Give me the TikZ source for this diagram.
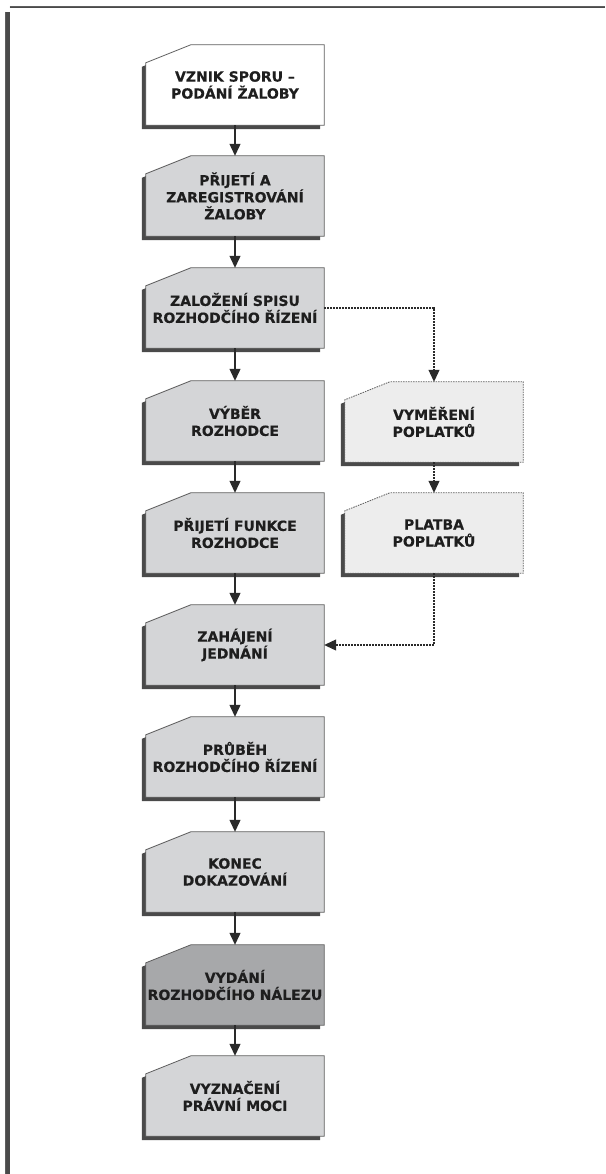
\documentclass[tikz,border=0pt]{standalone}
\usepackage{fontspec}
\setmainfont{DejaVu Sans}[BoldFeatures={FakeBold=0.4}]
\usetikzlibrary{arrows.meta,calc}
\definecolor{boxfill}{HTML}{D4D5D7}
\definecolor{darkfill}{HTML}{A7A8AA}
\definecolor{lightfill}{HTML}{EDEDED}
\definecolor{shadowc}{HTML}{4A4A4A}
\definecolor{edgec}{HTML}{5E5E5E}
\definecolor{txtc}{HTML}{1E1E1E}
\definecolor{linec}{HTML}{2A2A2A}
\pgfdeclarelayer{bg}
\pgfsetlayers{bg,main}
\tikzset{
 flowbox/.style={minimum width=178pt, minimum height=80pt, inner sep=0pt, align=center,
   text=txtc, font=\fontsize{14}{17}\selectfont\bfseries},
 solidedge/.style={draw=edgec, line width=0.8pt},
 dotedge/.style={draw=edgec, line width=0.8pt, dash pattern=on 1.5pt off 1pt},
 arr/.style={draw=linec, line width=1.2pt, -{Triangle[length=12pt,width=11pt]}},
 darr/.style={arr, line width=1.1pt, dash pattern=on 2pt off 1pt},
}
\newcommand\chamf[3]{%
 \begin{pgfonlayer}{bg}
 \fill[shadowc] ($(#1.south west)+(-4,4)$) -- ($(#1.south east)+(-4,4)$)
   -- ($(#1.north east)+(-4,4)$) -- ($(#1.north west)+(41,4)$)
   -- ($(#1.north west)+(-4,22)$) -- cycle;
 \path[fill=#2,#3] (#1.south west) -- (#1.south east) -- (#1.north east)
   -- ($(#1.north west)+(45,0)$) -- ($(#1.north west)+(0,18)$) -- cycle;
 \end{pgfonlayer}}
\begin{document}
\begin{tikzpicture}[x=1pt,y=-1pt]
\useasboundingbox (0,0) rectangle (605,1174);
% frame
\fill[shadowc] (5.5,12) rectangle (9.5,1174);
\draw[edgec, line width=0.8pt] (5.3,12) -- (5.3,1174);
\draw[shadowc, line width=1.4pt] (9.5,7.7) -- (605,7.7);
\draw[edgec, line width=0.6pt] (9.5,6.6) -- (605,6.6);
% main column
\node[flowbox] (b1) at (235,85) {VZNIK SPORU –\\PODÁNÍ ŽALOBY};
\node[flowbox] (b2) at (235,196) {PŘIJETÍ A\\ZAREGISTROVÁNÍ\\ŽALOBY};
\node[flowbox] (b3) at (235,308) {ZALOŽENÍ SPISU\\ROZHODČÍHO ŘÍZENÍ};
\node[flowbox] (b4) at (235,421) {VÝBĚR\\ROZHODCE};
\node[flowbox] (b5) at (235,533) {PŘIJETÍ FUNKCE\\ROZHODCE};
\node[flowbox] (b6) at (235,645) {ZAHÁJENÍ\\JEDNÁNÍ};
\node[flowbox] (b7) at (235,757) {PRŮBĚH\\ROZHODČÍHO ŘÍZENÍ};
\node[flowbox] (b8) at (235,872) {KONEC\\DOKAZOVÁNÍ};
\node[flowbox] (b9) at (235,985) {VYDÁNÍ\\ROZHODČÍHO NÁLEZU};
\node[flowbox] (b10) at (235,1096) {VYZNAČENÍ\\PRÁVNÍ MOCI};
% side column
\node[flowbox] (r1) at (434,422) {VYMĚŘENÍ\\POPLATKŮ};
\node[flowbox] (r2) at (434,533) {PLATBA\\POPLATKŮ};
% shapes
\chamf{b1}{white}{solidedge}
\chamf{b2}{boxfill}{solidedge}
\chamf{b3}{boxfill}{solidedge}
\chamf{b4}{boxfill}{solidedge}
\chamf{b5}{boxfill}{solidedge}
\chamf{b6}{boxfill}{solidedge}
\chamf{b7}{boxfill}{solidedge}
\chamf{b8}{boxfill}{solidedge}
\chamf{b9}{darkfill}{solidedge}
\chamf{b10}{boxfill}{solidedge}
\chamf{r1}{lightfill}{dotedge}
\chamf{r2}{lightfill}{dotedge}
% connectors
\draw[arr] (b1) -- (b2);
\draw[arr] (b2) -- (b3);
\draw[arr] (b3) -- (b4);
\draw[arr] (b4) -- (b5);
\draw[arr] (b5) -- (b6);
\draw[arr] (b6) -- (b7);
\draw[arr] (b7) -- (b8);
\draw[arr] (b8) -- (b9);
\draw[arr] (b9) -- (b10);
\draw[darr] (b3.east) -| (r1.north);
\draw[darr] (r1) -- (r2);
\draw[darr] (r2.south) |- (b6.east);
\end{tikzpicture}
\end{document}
